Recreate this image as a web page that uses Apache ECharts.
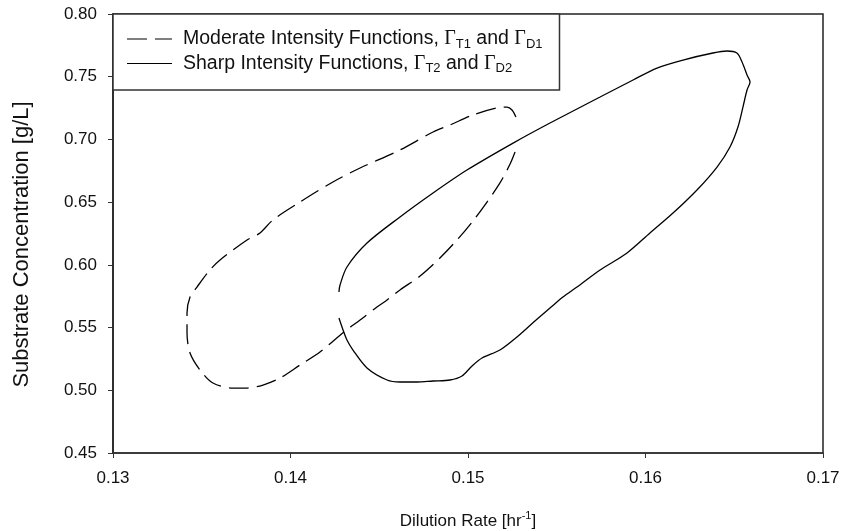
<!DOCTYPE html>
<html>
<head>
<meta charset="utf-8">
<script src="https://cdn.jsdelivr.net/npm/echarts@6/dist/echarts.min.js"></script>
<style>
  html, body { margin: 0; padding: 0; background: #fff; }
  #chart { width: 846px; height: 531px; }
</style>
</head>
<body>
<div id="chart"></div>
<script>
// Dilution rate (x) and substrate concentration (y) along each closed trajectory
const moderateD = [0.15265, 0.15237, 0.15180, 0.15107, 0.15028, 0.14938, 0.14842, 0.14730, 0.14617, 0.14544,
  0.14487, 0.14392, 0.14301, 0.14166, 0.14054, 0.13941, 0.13845, 0.13755, 0.13676, 0.13563,
  0.13490, 0.13434, 0.13417, 0.13417, 0.13434, 0.13473, 0.13546, 0.13603, 0.13755, 0.13828,
  0.13901, 0.14054, 0.14239, 0.14392, 0.14617, 0.14803, 0.14899, 0.15028, 0.15163, 0.15220,
  0.15248, 0.15270];
const moderateS = [0.6900, 0.6804, 0.6653, 0.6501, 0.6350, 0.6198, 0.6055, 0.5911, 0.5800, 0.5720,
  0.5664, 0.5560, 0.5465, 0.5305, 0.5202, 0.5098, 0.5042, 0.5018, 0.5018, 0.5058,
  0.5162, 0.5297, 0.5457, 0.5616, 0.5744, 0.5823, 0.5959, 0.6039, 0.6198, 0.6254,
  0.6358, 0.6501, 0.6661, 0.6772, 0.6916, 0.7059, 0.7115, 0.7195, 0.7251, 0.7258,
  0.7235, 0.7179];

const sharpD = [0.14273, 0.14296, 0.14318, 0.14352, 0.14431, 0.14544, 0.14617, 0.14713, 0.14803, 0.14899,
  0.14966, 0.15023, 0.15079, 0.15180, 0.15276, 0.15377, 0.15462, 0.15535, 0.15614, 0.15744,
  0.15896, 0.16025, 0.16155, 0.16290, 0.16403, 0.16476, 0.16521, 0.16549, 0.16572, 0.16589,
  0.16572, 0.16544, 0.16515, 0.16459, 0.16380, 0.16211, 0.16065, 0.15930, 0.15744, 0.15462,
  0.15254, 0.14994, 0.14803, 0.14617, 0.14431, 0.14318, 0.14279, 0.14273];
const sharpS = [0.5576, 0.5481, 0.5401, 0.5321, 0.5178, 0.5082, 0.5066, 0.5066, 0.5074, 0.5082,
  0.5114, 0.5194, 0.5257, 0.5321, 0.5425, 0.5552, 0.5656, 0.5744, 0.5823, 0.5959,
  0.6095, 0.6254, 0.6413, 0.6597, 0.6780, 0.6940, 0.7099, 0.7258, 0.7394, 0.7458,
  0.7514, 0.7617, 0.7689, 0.7705, 0.7689, 0.7633, 0.7569, 0.7474, 0.7338, 0.7131,
  0.6971, 0.6756, 0.6573, 0.6382, 0.6174, 0.5983, 0.5839, 0.5784];

// Axis tick values
const dilutionTicks = [0.13, 0.14, 0.15, 0.16, 0.17];
const concentrationTicks = [0.45, 0.50, 0.55, 0.60, 0.65, 0.70, 0.75, 0.80];

const seriesNames = ['moderate', 'sharp'];
const legendLabels = {
  moderate: '{sp|}{t|Moderate Intensity Functions, }{g|\u0393}{s|T1}{t| and }{g|\u0393}{s|D1}',
  sharp: '{sp|}{t|Sharp Intensity Functions, }{g|\u0393}{s|T2}{t| and }{g|\u0393}{s|D2}'
};
// Legend keys: a long-dash pair for the moderate curve, a plain rule for the sharp one
const legendIcons = {
  moderate: 'path://M0,0h20v1h-20zM28,0h17v1h-17z',
  sharp: 'path://M0,0h45v1h-45z'
};

const pairs = (xs, ys) => xs.map((x, i) => [x, ys[i]]);

const SANS = 'Liberation Sans, Arial, sans-serif';
const INK = '#111';

const chart = echarts.init(document.getElementById('chart'), null, { renderer: 'canvas' });

chart.setOption({
  animation: false,
  backgroundColor: '#fff',
  grid: {
    left: 113, right: 23, top: 14, bottom: 78,
    containLabel: false,
    outerBoundsMode: 'none',
    show: true, borderColor: '#222', borderWidth: 1.5, backgroundColor: 'transparent'
  },
  xAxis: {
    type: 'value',
    min: dilutionTicks[0],
    max: dilutionTicks[dilutionTicks.length - 1],
    interval: 0.01,
    splitLine: { show: false },
    axisLine: { lineStyle: { color: '#333', width: 1.5 } },
    axisTick: { inside: false, length: 5, lineStyle: { color: '#333', width: 1 } },
    axisLabel: {
      margin: 17, color: INK, fontFamily: SANS, fontSize: 17,
      formatter: v => v.toFixed(2)
    },
    name: '{a|Dilution Rate [hr}{sup|-1}{a|]}',
    nameLocation: 'middle',
    nameGap: 57,
    nameTextStyle: {
      rich: {
        a: { fontFamily: SANS, fontSize: 17, color: INK },
        sup: { fontFamily: SANS, fontSize: 11, color: INK, padding: [0, 0, 12, 0] }
      }
    }
  },
  yAxis: {
    type: 'value',
    min: concentrationTicks[0],
    max: concentrationTicks[concentrationTicks.length - 1],
    interval: 0.05,
    splitLine: { show: false },
    axisLine: { lineStyle: { color: '#222', width: 1.5 } },
    axisTick: { inside: false, length: 5, lineStyle: { color: '#333', width: 1 } },
    axisLabel: {
      margin: 16, color: INK, fontFamily: SANS, fontSize: 17,
      formatter: v => v.toFixed(2)
    },
    name: 'Substrate Concentration [g/L]',
    nameLocation: 'middle',
    nameGap: 80,
    nameTextStyle: { fontFamily: SANS, fontSize: 22, color: INK, padding: [0, 22, 0, 0] }
  },
  legend: {
    data: seriesNames.map(n => ({ name: n, icon: legendIcons[n] })),
    left: 113, top: 14,
    orient: 'vertical',
    padding: [15, 17, 15, 14],
    itemGap: 3,
    itemWidth: 45,
    itemHeight: 1.4,
    backgroundColor: '#fff',
    borderColor: '#333',
    borderWidth: 1.5,
    borderRadius: 0,
    formatter: name => legendLabels[name],
    textStyle: {
      color: INK,
      rich: {
        sp: { width: 6 },
        t: { fontFamily: SANS, fontSize: 19.5, color: INK },
        g: { fontFamily: 'Liberation Serif, Times New Roman, serif', fontSize: 20, color: INK },
        s: { fontFamily: SANS, fontSize: 13, color: INK, padding: [10, 0, 0, 0] }
      }
    }
  },
  series: [
    {
      name: 'moderate',
      type: 'line',
      data: pairs(moderateD, moderateS),
      showSymbol: false,
      symbol: 'none',
      smooth: 0.3,
      lineStyle: { color: '#000', width: 1.3, type: [20, 8] },
      itemStyle: { color: '#000' }
    },
    {
      name: 'sharp',
      type: 'line',
      data: pairs(sharpD, sharpS),
      showSymbol: false,
      symbol: 'none',
      smooth: 0.3,
      lineStyle: { color: '#000', width: 1.3, type: 'solid' },
      itemStyle: { color: '#000' }
    }
  ]
});
</script>
</body>
</html>
